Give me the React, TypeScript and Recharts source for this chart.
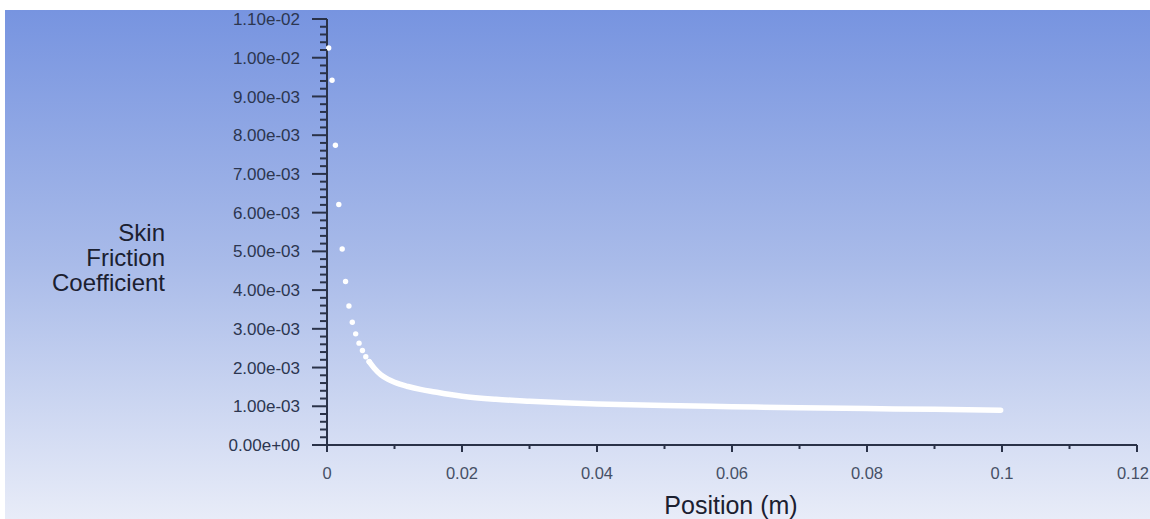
import { ScatterChart, Scatter, XAxis, YAxis } from "recharts";

// wall skin friction, discrete cells near the leading edge
const dotX = [0.00025, 0.00075, 0.00125, 0.00175, 0.00225, 0.00275, 0.00325, 0.00375, 0.00425, 0.00475, 0.00525, 0.00575, 0.00625];
const dotCf = [0.01025, 0.00942, 0.00774, 0.00621, 0.00506, 0.00422, 0.00359, 0.00317, 0.00287, 0.00263, 0.00244, 0.00228, 0.00215];

// downstream part, where the cells merge into a band
const tailX = [0.00625, 0.007, 0.008, 0.009, 0.01, 0.012, 0.014, 0.016, 0.018, 0.02, 0.025, 0.03, 0.035, 0.04, 0.045, 0.05, 0.06, 0.07, 0.08, 0.09, 0.0998];
const tailCf = [0.00215, 0.00198, 0.00181, 0.0017, 0.00162, 0.00151, 0.00143, 0.00137, 0.00131, 0.00126, 0.00118, 0.00113, 0.00109, 0.00106, 0.00104, 0.00102, 0.00099, 0.00096, 0.00094, 0.00092, 0.0009];

const yMajor = [0, 0.001, 0.002, 0.003, 0.004, 0.005, 0.006, 0.007, 0.008, 0.009, 0.01, 0.011];
const xMajor = [0, 0.02, 0.04, 0.06, 0.08, 0.1, 0.12];
const xLabels = ["0", "0.02", "0.04", "0.06", "0.08", "0.1", "0.12"];

const yTicks = Array.from({ length: 56 }, (_, i) => +(i * 0.0002).toFixed(4));
const xTicks = Array.from({ length: 13 }, (_, i) => +(i * 0.01).toFixed(2));

const dots = dotX.map((x, i) => ({ x, y: dotCf[i] }));
const tail = tailX.map((x, i) => ({ x, y: tailCf[i] }));

const AXIS = "#2a3248";
const FONT = "'Liberation Sans', Arial, sans-serif";

const sci = (v: number) => {
  const [m, e] = v.toExponential(2).split("e");
  const n = Number(e);
  return `${m}e${n < 0 ? "-" : "+"}${String(Math.abs(n)).padStart(2, "0")}`;
};

const near = (v: number, list: number[]) => list.findIndex((t) => Math.abs(t - v) < 1e-9);

const YTick = (props: any) => {
  const { x, y, payload } = props;
  const k = near(payload.value, yMajor);
  const len = k >= 0 ? 15 : 7;
  return (
    <g>
      <line x1={x - len} x2={x} y1={y} y2={y} stroke={AXIS} strokeWidth={2} />
      {k >= 0 && (
        <text x={x - 27} y={y} dy="0.36em" textAnchor="end" fontSize={17} fill="#2c3650" fontFamily={FONT}>
          {sci(yMajor[k])}
        </text>
      )}
    </g>
  );
};

const XTick = (props: any) => {
  const { x, y, payload } = props;
  const k = near(payload.value, xMajor);
  const len = k >= 0 ? 7 : 4;
  const last = k === xMajor.length - 1;
  return (
    <g>
      <line x1={x} x2={x} y1={y} y2={y + len} stroke={AXIS} strokeWidth={2} />
      {k >= 0 && (
        <text
          x={last ? x + 12 : x}
          y={y + 28}
          dy="0.36em"
          textAnchor={last ? "end" : "middle"}
          fontSize={16.5}
          fill="#465066"
          fontFamily={FONT}
        >
          {xLabels[k]}
        </text>
      )}
    </g>
  );
};

const Dot = (props: any) => <circle cx={props.cx} cy={props.cy} r={2.7} fill="#ffffff" />;
const NoDot = () => <g />;

export default function App() {
  return (
    <div style={{ position: "absolute", left: 0, top: 0, width: 1150, height: 519, background: "#ffffff", overflow: "hidden" }}>
      <div
        style={{
          position: "absolute",
          left: 5,
          top: 10,
          right: 0,
          bottom: 0,
          background: "linear-gradient(180deg, #7794e0 0%, #a9bbe9 50%, #e8ecf8 100%)",
        }}
      />
      <div style={{ position: "absolute", left: 0, top: 0 }}>
        <ScatterChart width={1150} height={519} margin={{ top: 19, right: 13, bottom: 0, left: 0 }}>
          <XAxis
            type="number"
            dataKey="x"
            domain={[0, 0.12]}
            ticks={xTicks}
            interval={0}
            height={74}
            tickSize={0}
            tickMargin={0}
            tickLine={false}
            axisLine={{ stroke: AXIS, strokeWidth: 2 }}
            tick={<XTick />}
          />
          <YAxis
            type="number"
            dataKey="y"
            domain={[0, 0.011]}
            ticks={yTicks}
            interval={0}
            width={327}
            tickSize={0}
            tickMargin={0}
            tickLine={false}
            axisLine={{ stroke: AXIS, strokeWidth: 2 }}
            tick={<YTick />}
          />
          <Scatter
            data={tail}
            fill="#ffffff"
            line={{ stroke: "#ffffff", strokeWidth: 5.5, strokeLinecap: "round", strokeLinejoin: "round" }}
            lineType="joint"
            lineJointType="monotoneX"
            shape={<NoDot />}
            isAnimationActive={false}
          />
          <Scatter data={dots} fill="#ffffff" shape={<Dot />} isAnimationActive={false} />
        </ScatterChart>
      </div>
      <div
        style={{
          position: "absolute",
          left: 0,
          width: 165,
          top: 220,
          textAlign: "right",
          fontFamily: FONT,
          fontSize: 24,
          lineHeight: "25px",
          color: "#1b2030",
        }}
      >
        Skin
        <br />
        Friction
        <br />
        Coefficient
      </div>
      <div
        style={{
          position: "absolute",
          left: 531,
          width: 400,
          top: 491,
          textAlign: "center",
          fontFamily: FONT,
          fontSize: 25,
          lineHeight: "28px",
          color: "#1b2030",
        }}
      >
        Position (m)
      </div>
    </div>
  );
}
